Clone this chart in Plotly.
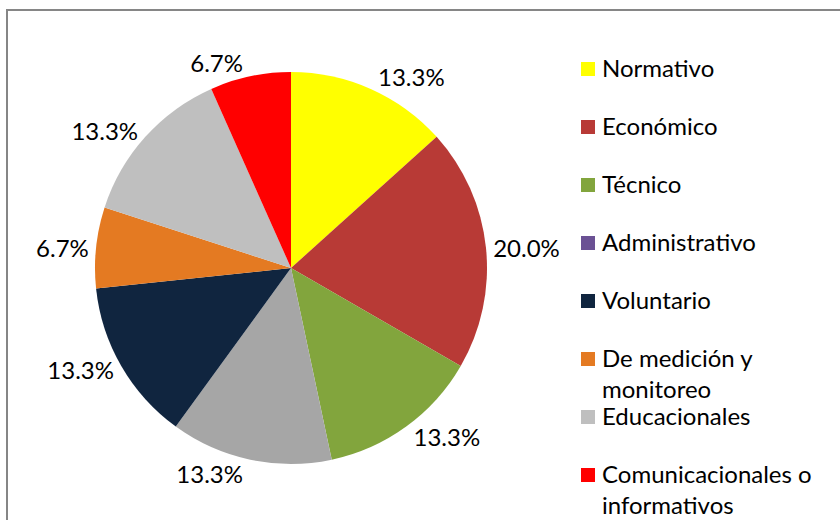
import plotly.graph_objects as go

# data (15 items in total)
categories = ["Normativo", "Económico", "Técnico", "Administrativo", "Voluntario",
              "De medición y monitoreo", "Educacionales", "Comunicacionales o informativos"]
counts = [2, 3, 2, 2, 2, 1, 2, 1]
legend_labels = ["Normativo", "Económico", "Técnico", "Administrativo", "Voluntario",
                 "De medición y<br>monitoreo", "Educacionales", "Comunicacionales o<br>informativos"]

slice_colors = ["#FFFF00", "#B83A36", "#82A53D", "#A6A6A6", "#10253F",
                "#E47A22", "#BFBFBF", "#FF0000"]
legend_colors = ["#FFFF00", "#B83A36", "#82A53D", "#6B5194", "#10253F",
                 "#E47A22", "#BFBFBF", "#FF0000"]

W, H = 840, 520
FONT = "Lato"
FS = 24

fig = go.Figure()
fig.add_trace(go.Pie(
    labels=categories, values=counts, sort=False, direction="clockwise", rotation=0,
    marker=dict(colors=slice_colors, line=dict(width=0)),
    textinfo="percent", texttemplate="%{percent:.1%}", textposition="outside",
    outsidetextfont=dict(size=FS, color="black", family=FONT),
    domain=dict(x=[95 / W, 487 / W], y=[1 - 464 / H, 1 - 72 / H]),
    showlegend=False, hoverinfo="label+percent",
))

# hand-drawn legend, like the original (its colour keys differ from one slice)
shapes = [dict(type="rect", xref="paper", yref="paper", x0=7 / W, y0=-0.2, x1=1.2, y1=1 - 10 / H,
               line=dict(color="#868686", width=2), fillcolor="rgba(0,0,0,0)")]
annotations = []
for i, (lab, col) in enumerate(zip(legend_labels, legend_colors)):
    yc = 69 + 58 * i
    shapes.append(dict(type="rect", xref="paper", yref="paper",
                       x0=581 / W, x1=595 / W, y0=1 - (yc + 7) / H, y1=1 - (yc - 7) / H,
                       fillcolor=col, line=dict(width=0)))
    annotations.append(dict(text=lab, xref="paper", yref="paper", x=600 / W, y=1 - (yc - 18) / H,
                            xanchor="left", yanchor="top", showarrow=False, align="left",
                            font=dict(size=FS, color="black", family=FONT)))

fig.update_layout(
    width=W, height=H, margin=dict(l=0, r=0, t=0, b=0),
    paper_bgcolor="white", plot_bgcolor="white",
    shapes=shapes, annotations=annotations,
    font=dict(family=FONT, size=FS, color="black"),
)
fig.write_html("out.html", config={"displayModeBar": False},
               post_script="document.body.style.margin='0';")
